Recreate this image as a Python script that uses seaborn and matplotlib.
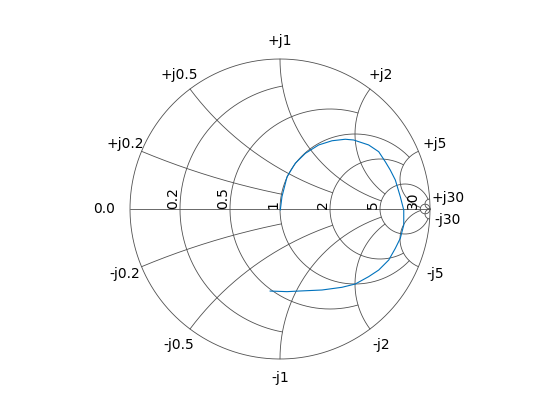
import numpy as np
import pandas as pd
import matplotlib
matplotlib.use("Agg")
import matplotlib.pyplot as plt
import seaborn as sns

# Grid values (resistance / reactance) and the value where each is clipped
grid_values = [0.2, 0.5, 1, 2, 5, 30]
grid_clips = [1, 2, 5, 5, 30, np.inf]
res_labels = ["0.2", "0.5", "1", "2", "5", "30"]
pos_x_labels = ["+j0.2", "+j0.5", "+j1", "+j2", "+j5", "+j30"]
neg_x_labels = ["-j0.2", "-j0.5", "-j1", "-j2", "-j5", "-j30"]

# Reflection coefficient of the trace
gamma_re = [0.002, 0.013, 0.047, 0.102, 0.169, 0.258, 0.347, 0.435, 0.491, 0.591,
            0.658, 0.702, 0.735, 0.769, 0.802, 0.825, 0.825, 0.802, 0.769, 0.725,
            0.658, 0.591, 0.502, 0.413, 0.280, 0.125, 0.047, -0.067]
gamma_im = [-0.007, 0.082, 0.215, 0.305, 0.371, 0.427, 0.455, 0.465, 0.460, 0.427,
            0.382, 0.315, 0.260, 0.193, 0.082, -0.007, -0.107, -0.195, -0.262, -0.340,
            -0.407, -0.451, -0.500, -0.522, -0.540, -0.547, -0.551, -0.547]

sns.set_theme(style="white")
plt.rcParams["font.family"] = ["DejaVu Sans"]

fig = plt.figure(figsize=(5.6, 4.2), dpi=100)
ax = fig.add_axes([0, 0, 1, 1])
ax.set_xlim(-280 / 150, 280 / 150)
ax.set_ylim(-211 / 150, 209 / 150)
ax.set_aspect("equal")
ax.axis("off")

GRID = "#505050"
LW = 0.6


def gam(z):
    return (z - 1) / (z + 1)


# outer circle (r = 0)
psi = np.linspace(-np.pi / 2 + 1e-4, np.pi / 2 - 1e-4, 3000)
g = gam(0 + 1j * np.tan(psi))
ax.plot(g.real, g.imag, color=GRID, lw=LW)
# real axis
ax.plot([-1, 1], [0, 0], color=GRID, lw=LW)

for v, c in zip(grid_values, grid_clips):
    # resistance circle r=v, |x| <= c
    a = np.arctan(c) if np.isfinite(c) else np.pi / 2 - 1e-4
    psi = np.linspace(-a, a, 3000)
    g = gam(v + 1j * np.tan(psi))
    ax.plot(g.real, g.imag, color=GRID, lw=LW)
    # reactance arcs x=+-v, r <= c
    tmax = c / (1 + c) if np.isfinite(c) else 1 - 1e-5
    t = np.linspace(0, tmax, 3000)
    r = t / (1 - t)
    for s in (1, -1):
        g = gam(r + 1j * s * v)
        ax.plot(g.real, g.imag, color=GRID, lw=LW)

# resistance labels
for v, lab in zip(grid_values, res_labels):
    ax.text((v - 1) / (v + 1), 0, lab, rotation=90, ha="right", va="bottom",
            fontsize=10, color="black")
ax.text(-1.1, 0, "0.0", ha="right", va="center", fontsize=10, color="black")

# reactance labels
for v, lp, ln in zip(grid_values, pos_x_labels, neg_x_labels):
    gp = gam(1j * v)
    ax.text(1.12 * gp.real, 1.12 * gp.imag, lp, ha="center", va="center",
            fontsize=10, color="black")
    ax.text(1.12 * gp.real, -1.13 * gp.imag, ln, ha="center", va="center",
            fontsize=10, color="black")

df = pd.DataFrame({"re": gamma_re, "im": gamma_im})
sns.lineplot(data=df, x="re", y="im", sort=False, estimator=None,
             color="#0072BD", lw=0.8, ax=ax)

fig.savefig("out.png", dpi=100)
